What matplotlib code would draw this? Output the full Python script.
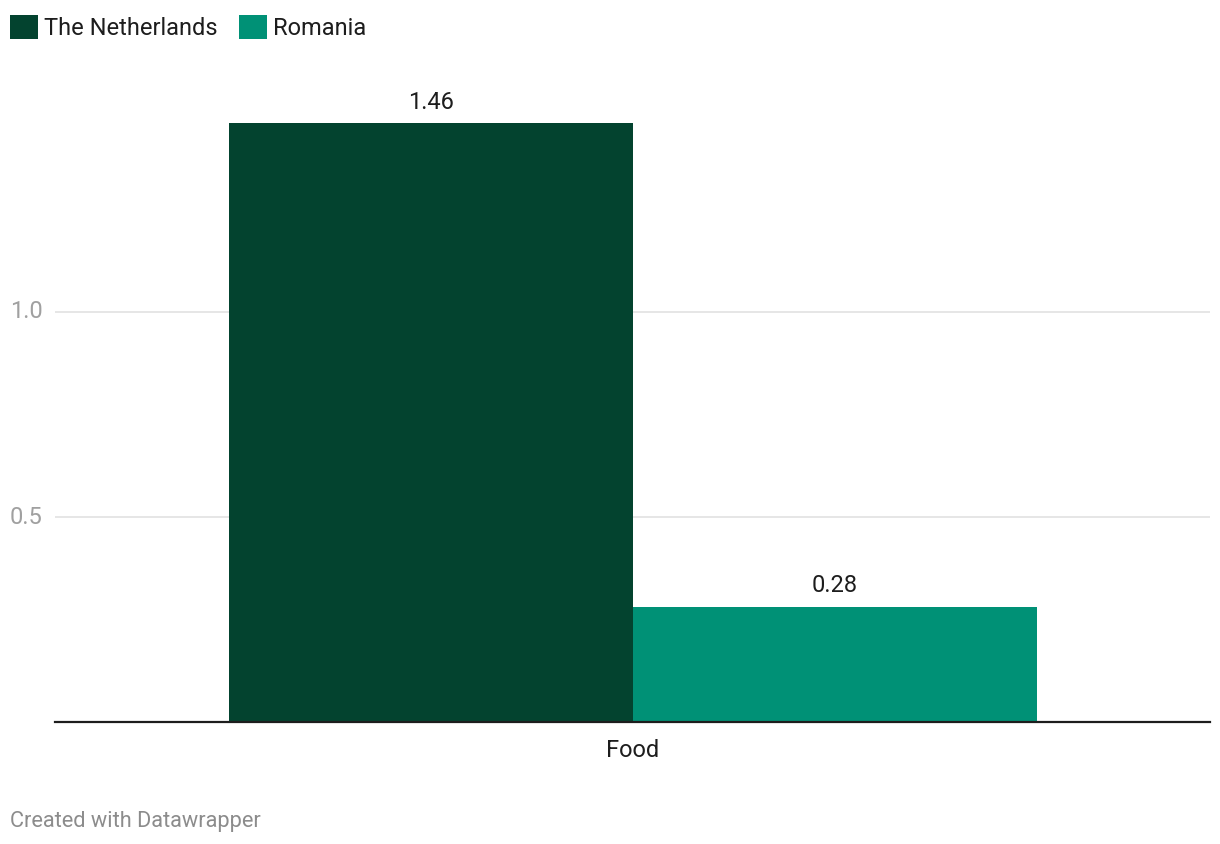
import matplotlib.pyplot as plt
from matplotlib.patches import Patch

# -------------------------------
# DATA
# -------------------------------
categories = ["Food"]
series_names = ["The Netherlands", "Romania"]
netherlands = [1.46]
romania = [0.28]
y_ticks = [0.5, 1.0]
y_tick_labels = ["0.5", "1.0"]
colors = ["#03432f", "#009176"]

plt.rcParams['font.family'] = ['Roboto', 'DejaVu Sans']

W, H = 1220, 844
fig = plt.figure(figsize=(W / 100, H / 100), dpi=100)
ax = fig.add_axes([55 / W, (H - 722) / H, 1155 / W, 642 / H])

bar_w = 1.0
x = list(range(len(categories)))
b1 = ax.bar([i - bar_w / 2 for i in x], netherlands, width=bar_w, color=colors[0], zorder=3)
b2 = ax.bar([i + bar_w / 2 for i in x], romania, width=bar_w, color=colors[1], zorder=3)

for bars in (b1, b2):
    ax.bar_label(bars, labels=[f"{v:.2f}" for v in bars.datavalues],
                 padding=7, fontsize=17, color="#1d1d1d")

ax.set_xlim(-(633 - 55) / 404, (1210 - 633) / 404)
ax.set_ylim(0, 642 / 410)

# gridlines
for t in y_ticks:
    ax.axhline(t, color="#e2e2e2", linewidth=1.2, zorder=1)
ax.set_yticks([])
for t, lab in zip(y_ticks, y_tick_labels):
    ax.text(-45 / 1155, t, lab, transform=ax.get_yaxis_transform(),
            ha="left", va="center", fontsize=17, color="#a0a0a0")

ax.set_xticks(x)
ax.set_xticklabels(categories, fontsize=17, color="#1d1d1d")
ax.tick_params(axis="x", length=0, pad=12)

for side in ["top", "right", "left"]:
    ax.spines[side].set_visible(False)
ax.spines["bottom"].set_color("#1d1d1d")
ax.spines["bottom"].set_linewidth(1.6)
ax.spines["bottom"].set_zorder(4)

handles = [Patch(facecolor=c, edgecolor="none") for c in colors]
fig.legend(handles, series_names, loc="upper left", ncol=2,
           bbox_to_anchor=(10 / W, 1 - 15 / H), bbox_transform=fig.transFigure,
           frameon=False, fontsize=17, handlelength=1.19, handleheight=1.19,
           handletextpad=0.25, columnspacing=0.89, borderpad=0, borderaxespad=0,
           labelcolor="#1d1d1d")

fig.text(10 / W, 1 - 821 / H, "Created with Datawrapper", ha="left", va="center",
         fontsize=15.7, color="#8c8c8c")

plt.savefig("out.png", dpi=100)
plt.close()
